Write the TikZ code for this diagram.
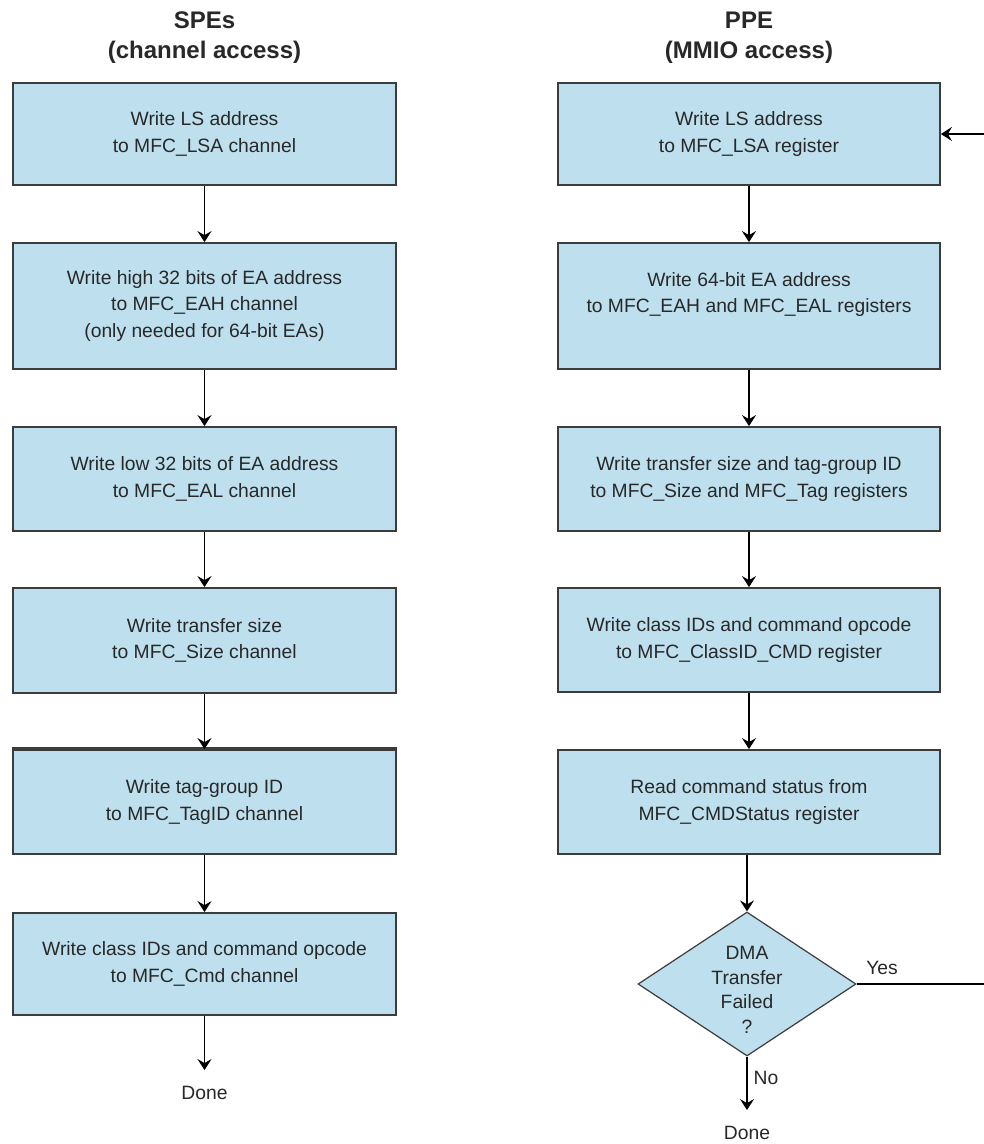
\documentclass[tikz,border=0pt]{standalone}
\usepackage{fontspec}
\setmainfont{Liberation Sans}
\usetikzlibrary{arrows.meta,shapes.geometric}
\definecolor{boxfill}{RGB}{190,224,238}
\definecolor{boxline}{RGB}{60,60,60}
\definecolor{txt}{RGB}{40,40,40}
\begin{document}
\begin{tikzpicture}[x=1pt,y=-1pt,
  stepbox/.style={draw=boxline, line width=1.8pt, fill=boxfill, minimum height=#1,
    inner sep=0pt, text=txt, align=center, font=\fontsize{19.3}{26.5}\selectfont},
  lbox/.style={stepbox=#1, minimum width=383pt},
  rbox/.style={stepbox=#1, minimum width=382pt},
  decision/.style={diamond, draw=boxline, line width=1.2pt, fill=boxfill,
    minimum width=218pt, minimum height=144pt, inner sep=0pt},
  lbl/.style={text=txt, align=center, inner sep=0pt, font=\fontsize{19.3}{24.5}\selectfont},
  donelbl/.style={lbl, inner ysep=16pt},
  title/.style={text=txt, align=center, inner sep=0pt, font=\bfseries\fontsize{24}{30}\selectfont},
  flow/.style={draw=black, line width=1.7pt, -{Stealth[length=11pt,width=14pt,inset=4pt]}}
]
\useasboundingbox (0,0) rectangle (984,1144);
\fill[white] (0,0) rectangle (984,1144);

% titles
\node[title] (t1) at (204.5,38) {SPEs\\(channel access)};
\node[title] (t2) at (749,38) {PPE\\(MMIO access)};

% left column (SPEs)
\node[lbox=102pt] (b1) at (204.5,134) {Write LS address\\to MFC\_LSA channel};
\node[lbox=126pt] (b2) at (204.5,306) {Write high 32 bits of EA address\\to MFC\_EAH channel\\(only needed for 64-bit EAs)};
\node[lbox=104pt] (b3) at (204.5,479) {Write low 32 bits of EA address\\to MFC\_EAL channel};
\node[lbox=105pt] (b4) at (204.5,640.5) {Write transfer size\\to MFC\_Size channel};
\node[lbox=104pt] (b5) at (204.5,802) {Write tag-group ID\\to MFC\_TagID channel};
\draw[boxline, line width=3.4pt] (b5.north west) -- (b5.north east);
\node[lbox=102pt] (b6) at (204.5,964) {Write class IDs and command opcode\\to MFC\_Cmd channel};
\node[donelbl] (d1) at (204.5,1093) {Done};

\draw[flow] (b1) -- (b2);
\draw[flow] (b2) -- (b3);
\draw[flow] (b3) -- (b4);
\draw[flow] (b4) -- (b5);
\draw[flow] (b5) -- (b6);
\draw[flow] (b6) -- (d1);

% right column (PPE)
\node[rbox=102pt] (r1) at (749,134) {Write LS address\\to MFC\_LSA register};
\node[rbox=126pt] (r2) at (749,306) {Write 64-bit EA address\\to MFC\_EAH and MFC\_EAL registers\\\mbox{}};
\node[rbox=104pt] (r3) at (749,479) {Write transfer size and tag-group ID\\to MFC\_Size and MFC\_Tag registers};
\node[rbox=104pt] (r4) at (749,640) {Write class IDs and command opcode\\to MFC\_ClassID\_CMD register};
\node[rbox=104pt] (r5) at (749,802) {Read command status from\\MFC\_CMDStatus register};
\node[decision] (dec) at (747,984) {};
\node[lbl] (dectext) at (747,990) {DMA\\Transfer\\Failed\\?};
\node[donelbl] (d2) at (747,1133) {Done};
\node[lbl] (yes) at (882,968) {Yes};
\node[lbl] (no) at (766,1078) {No};
\coordinate (fb) at (994,984);

\draw[flow] (r1) -- (r2);
\draw[flow] (r2) -- (r3);
\draw[flow] (r3) -- (r4);
\draw[flow] (r4) -- (r5);
\draw[flow] (r5.south -| dec.north) -- (dec.north);
\draw[flow] (dec.south) -- (d2);
\draw[flow] (dec.east) -- (fb) |- (r1.east);
\end{tikzpicture}
\end{document}
